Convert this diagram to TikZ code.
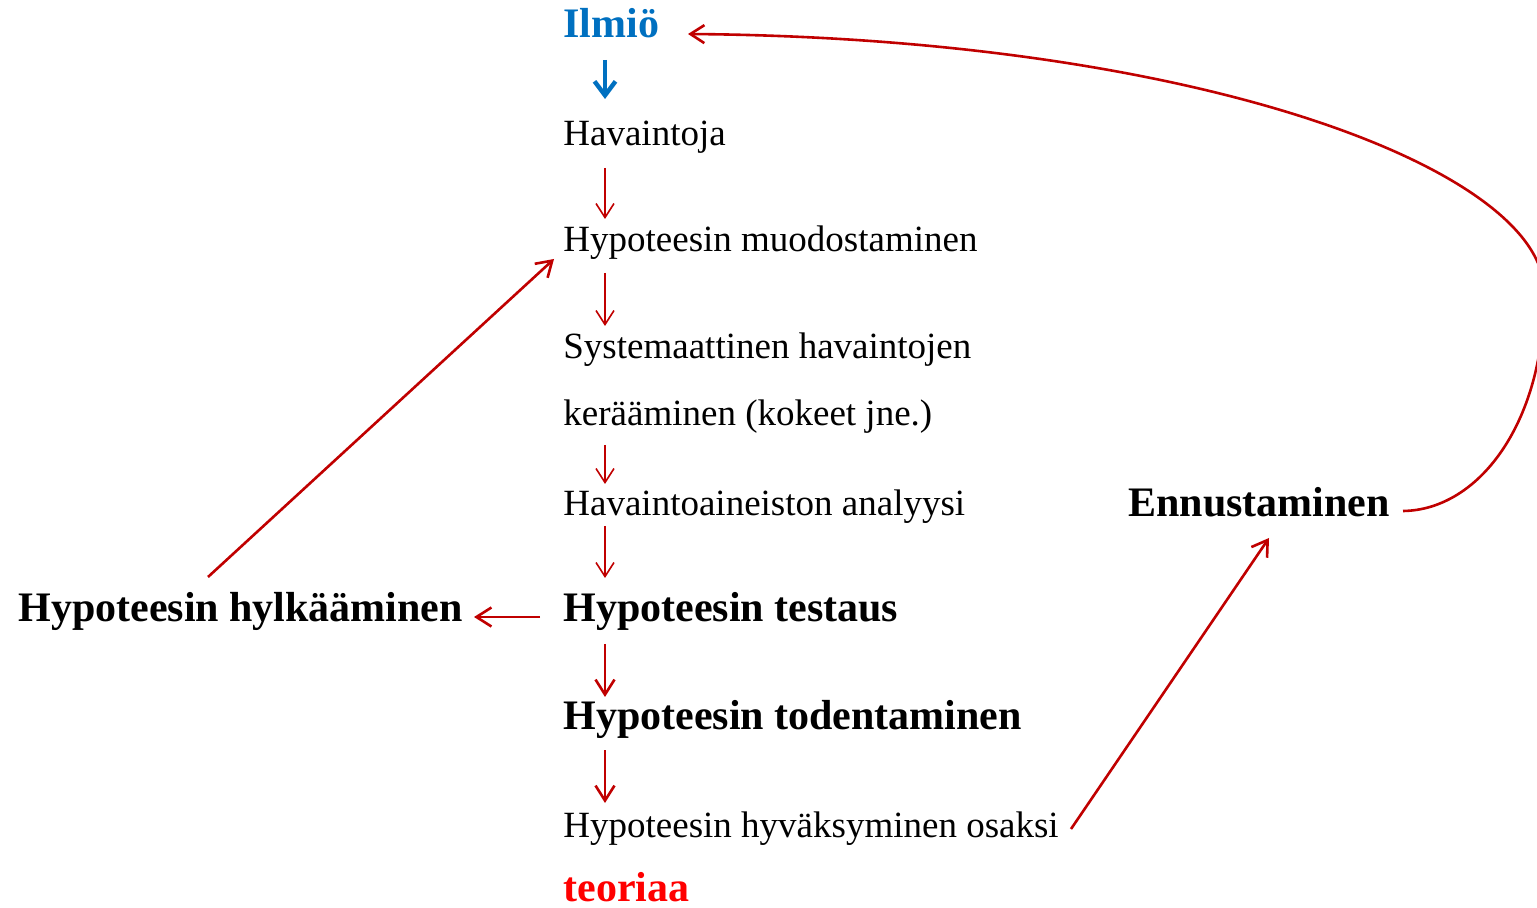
\documentclass[tikz,border=0pt]{standalone}
\usepackage{fontspec}
\setmainfont{Liberation Serif}
\usetikzlibrary{arrows.meta}
\definecolor{dred}{HTML}{C00000}
\definecolor{iblue}{HTML}{0070C0}
\definecolor{tred}{HTML}{FF0000}
\begin{document}
\begin{tikzpicture}[x=0.5pt,y=-0.5pt,
  txt/.style={anchor=base west,inner sep=0pt,font=\fontsize{18.5}{20}\selectfont},
  btxt/.style={anchor=base west,inner sep=0pt,font=\fontsize{21}{23}\selectfont\bfseries},
  thinarr/.style={draw=dred,line width=0.8pt,-{Straight Barb[length=7pt,width=9pt]}},
  medarr/.style={draw=dred,line width=1.3pt,-{Straight Barb[length=7.5pt,width=9.5pt]}},
  bluearr/.style={draw=iblue,line width=2.2pt,-{Straight Barb[length=7pt,width=10.5pt]}},
  curvearr/.style={draw=dred,line width=1.3pt,-{Straight Barb[length=7pt,width=9pt]}}
]
\useasboundingbox (0,0) rectangle (1537,908);

% texts
\node[btxt,text=iblue] (ilmio) at (563,38) {Ilmiö};
\node[txt] (hav) at (563,146) {Havaintoja};
\node[txt] (muod) at (563,252) {Hypoteesin muodostaminen};
\node[txt] (syst) at (563,359) {Systemaattinen havaintojen};
\node[txt] (ker) at (563,426) {kerääminen (kokeet jne.)};
\node[txt] (anal) at (563,516) {Havaintoaineiston analyysi};
\node[btxt] (test) at (563,622) {Hypoteesin testaus};
\node[btxt] (todent) at (563,729) {Hypoteesin todentaminen};
\node[txt] (hyv) at (563,837) {Hypoteesin hyväksyminen osaksi};
\node[btxt,text=tred] (teor) at (563,901) {teoriaa};
\node[btxt] (hylk) at (18,622) {Hypoteesin hylkääminen};
\node[btxt] (enn) at (1128,517) {Ennustaminen};

% arrow end points
\coordinate (b1) at (605,60);  \coordinate (b2) at (605,99);
\coordinate (r1a) at (605,168); \coordinate (r1b) at (605,219);
\coordinate (r2a) at (605,273); \coordinate (r2b) at (605,326);
\coordinate (r3a) at (605,445); \coordinate (r3b) at (605,484);
\coordinate (r4a) at (605,526); \coordinate (r4b) at (605,578);
\coordinate (r5a) at (605,644); \coordinate (r5b) at (605,697);
\coordinate (r6a) at (605,750); \coordinate (r6b) at (605,803);
\coordinate (la) at (540,617); \coordinate (lb) at (474,617);
\coordinate (da) at (208,577); \coordinate (db) at (554,259);
\coordinate (ea) at (1071,829); \coordinate (eb) at (1269,538);
\coordinate (ca) at (1403,511); \coordinate (cm) at (1544,290); \coordinate (cb) at (688,34);

\draw[bluearr] (b1) -- (b2);
\draw[thinarr] (r1a) -- (r1b);
\draw[thinarr] (r2a) -- (r2b);
\draw[thinarr] (r3a) -- (r3b);
\draw[thinarr] (r4a) -- (r4b);
\draw[medarr] (r5a) -- (r5b);
\draw[medarr] (r6a) -- (r6b);
\draw[medarr] (la) -- (lb);
\draw[medarr] (da) -- (db);
\draw[medarr] (ea) -- (eb);
\draw[curvearr] (ca) .. controls (1480,510) and (1546,420) .. (cm)
  .. controls (1542,170) and (1200,38) .. (cb);
\end{tikzpicture}
\end{document}
